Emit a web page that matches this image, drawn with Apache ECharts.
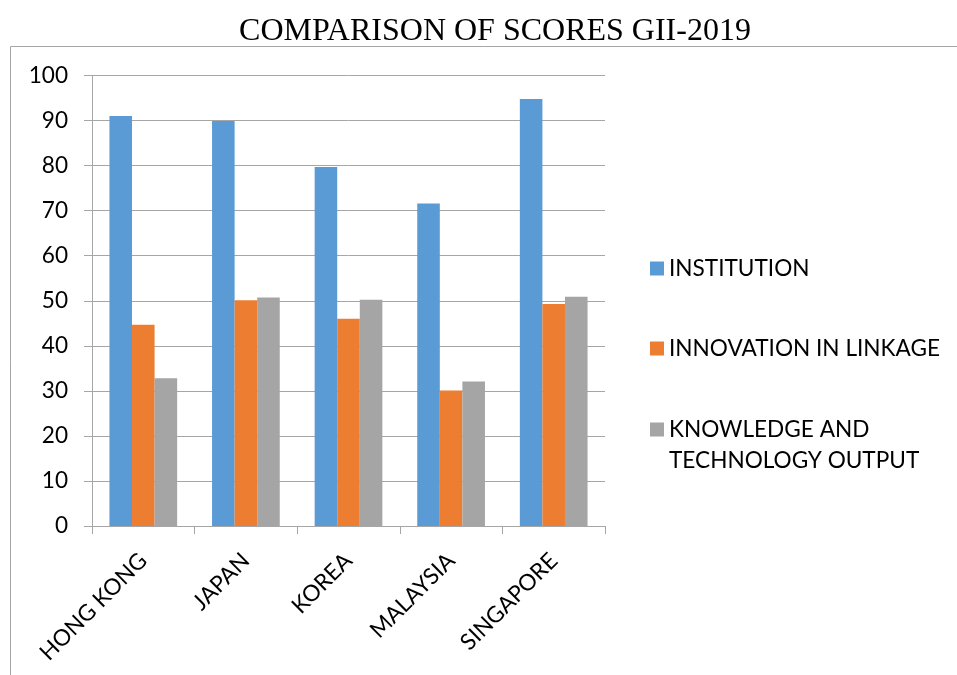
<!DOCTYPE html>
<html>
<head>
<meta charset="utf-8">
<script src="https://cdn.jsdelivr.net/npm/echarts@6/dist/echarts.min.js"></script>
<style>html,body{margin:0;padding:0;background:#fff}#c{width:957px;height:675px}</style>
</head>
<body>
<div id="c"></div>
<script>
const categories = ['HONG KONG', 'JAPAN', 'KOREA', 'MALAYSIA', 'SINGAPORE'];
const institution = [91.0, 89.9, 79.7, 71.6, 94.8];
const innovationLinkage = [44.7, 50.1, 46.0, 30.1, 49.3];
const knowledgeOutput = [32.8, 50.7, 50.2, 32.1, 50.9];
const seriesNames = ['INSTITUTION', 'INNOVATION IN LINKAGE', 'KNOWLEDGE AND TECHNOLOGY OUTPUT'];
const yTicks = { min: 0, max: 100, interval: 10 };

const FONT = 'Lato';
const chart = echarts.init(document.getElementById('c'), null, { renderer: 'canvas' });
const legendBase = {
  orient: 'vertical', left: 650, padding: 0, itemWidth: 14, itemHeight: 14,
  icon: 'rect', selectedMode: false,
  textStyle: { fontFamily: FONT, fontSize: 22.6, color: '#000', lineHeight: 31 }
};
chart.setOption({
  animation: false,
  backgroundColor: '#fff',
  title: {
    text: 'COMPARISON OF SCORES GII-2019',
    left: 490, top: 11, textAlign: 'center',
    textStyle: { fontFamily: 'Liberation Serif', fontSize: 32, fontWeight: 'normal', color: '#000' }
  },
  graphic: [{
    type: 'rect', shape: { x: 10.5, y: 46.5, width: 1000, height: 700 },
    style: { fill: 'none', stroke: '#a6a6a6', lineWidth: 1 }, silent: true
  }],
  legend: [
    Object.assign({}, legendBase, { top: 253, data: [seriesNames[0]] }),
    Object.assign({}, legendBase, { top: 333, data: [seriesNames[1]] }),
    Object.assign({}, legendBase, { top: 383, data: [seriesNames[2]],
      formatter: () => ' \nKNOWLEDGE AND\nTECHNOLOGY OUTPUT' })
  ],
  grid: { left: 92, right: 352, top: 75.5, bottom: 149, containLabel: false },
  xAxis: {
    type: 'category', data: categories,
    axisLine: { lineStyle: { color: '#a6a6a6', width: 1 } },
    axisTick: { show: true, length: 8, lineStyle: { color: '#a6a6a6' } },
    axisLabel: { rotate: 45, margin: 31, fontFamily: FONT, fontSize: 22.6, color: '#000', interval: 0 }
  },
  yAxis: {
    type: 'value', min: yTicks.min, max: yTicks.max, interval: yTicks.interval,
    axisLine: { show: true, lineStyle: { color: '#a6a6a6', width: 1 } },
    axisTick: { show: true, length: 8, lineStyle: { color: '#a6a6a6' } },
    splitLine: { lineStyle: { color: '#a6a6a6', width: 1 } },
    axisLabel: { margin: 24, fontFamily: FONT, fontSize: 22.6, color: '#000' }
  },
  series: [
    { name: seriesNames[0], type: 'bar', data: institution, itemStyle: { color: '#5b9bd5' }, barGap: '0%', barCategoryGap: '34%' },
    { name: seriesNames[1], type: 'bar', data: innovationLinkage, itemStyle: { color: '#ed7d31' }, barGap: '0%', barCategoryGap: '34%' },
    { name: seriesNames[2], type: 'bar', data: knowledgeOutput, itemStyle: { color: '#a5a5a5' }, barGap: '0%', barCategoryGap: '34%' }
  ]
});
</script>
</body>
</html>
